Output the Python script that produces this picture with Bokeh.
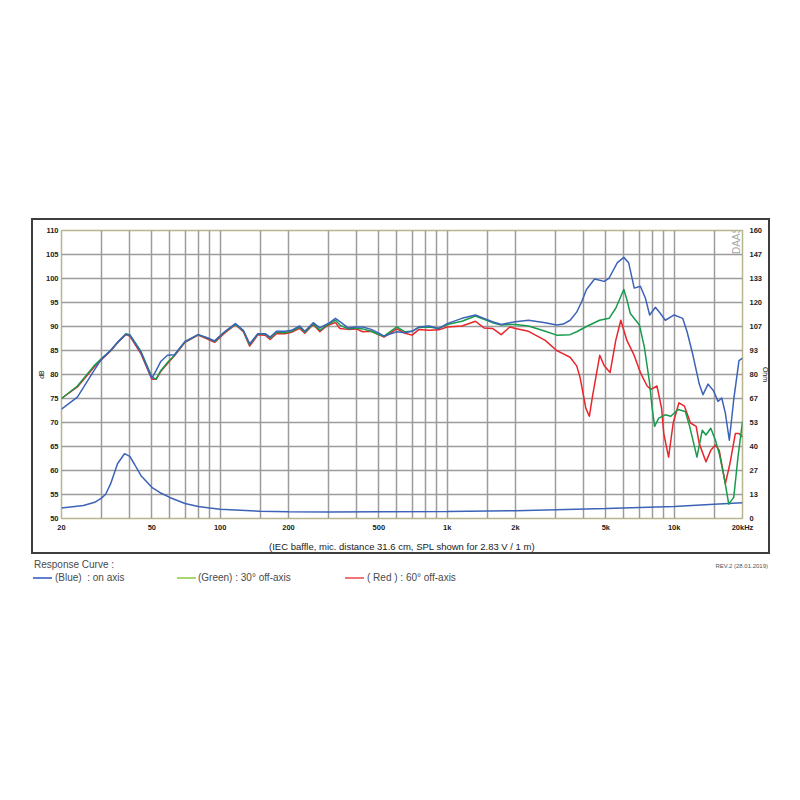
from math import pi
from bokeh.plotting import figure
from bokeh.models import Range1d, LinearAxis, FixedTicker, Div, Spacer
from bokeh.layouts import column, row
from bokeh.core.properties import value
from bokeh.embed import file_html
from bokeh.resources import INLINE

FONT = "Liberation Sans"

# ---------------- data ----------------
blue_f = [20, 23.5, 27.8, 30, 32.9, 35.5, 38.4, 40, 44.8, 50, 52.2, 54.7, 58.6, 62.9, 70, 80, 88, 94.5,
          104.5, 116.7, 126.5, 134.9, 146.7, 157.9, 166, 177, 193, 206, 224, 236, 257, 275, 289, 304, 322,
          337, 366, 397, 425, 463, 505, 527, 600, 652, 700, 752, 833, 920, 1000, 1162, 1332, 1452, 1584,
          1730, 1888, 2000, 2282, 2704, 3036, 3250, 3480, 3720, 3900, 4110, 4460, 4920, 5170, 5620, 6000,
          6300, 6670, 7100, 7470, 7800, 8270, 8700, 9140, 10000, 10900, 11400, 12100, 12900, 13400, 14100,
          14900, 15600, 16200, 16800, 17500, 18300, 19300, 20000]
blue_db = [72.8, 75.3, 80.8, 83.2, 85.0, 86.8, 88.4, 88.2, 84.6, 79.2, 80.8, 82.7, 84.0, 84.1, 86.9, 88.3,
           87.6, 87.0, 88.9, 90.6, 89.2, 86.4, 88.5, 88.5, 87.8, 89.0, 89.0, 89.2, 90.1, 89.0, 90.8, 89.7,
           90.3, 90.8, 91.7, 91.0, 89.7, 89.9, 89.9, 89.4, 88.5, 88.0, 88.9, 88.7, 89.0, 89.9, 90.1, 89.6,
           90.6, 91.7, 92.4, 91.7, 91.0, 90.4, 90.8, 91.0, 91.3, 90.8, 90.3, 90.5, 91.3, 93.0, 95.0, 97.7,
           99.9, 99.4, 100.1, 103.3, 104.4, 103.3, 98.0, 98.4, 95.9, 92.4, 94.0, 92.7, 91.3, 92.4, 91.7,
           88.9, 84.0, 78.0, 75.8, 78.0, 76.6, 74.4, 75.1, 72.0, 66.3, 74.8, 82.9, 83.4]

green_f = [20, 23.5, 27.8, 30, 32.9, 35.5, 38.4, 40, 44.8, 50, 52.2, 54.7, 58.6, 62.9, 70, 80, 88, 94.5,
           104.5, 116.7, 126.5, 134.9, 146.7, 157.9, 166, 177, 193, 206, 224, 236, 257, 275, 289, 304, 322,
           337, 366, 397, 425, 463, 505, 527, 600, 652, 700, 752, 833, 920, 1000, 1162, 1332, 1452, 1584,
           1730, 1888, 2000, 2282, 2704, 3036, 3480, 3720, 4110, 4690, 5170, 5530, 6000, 6190, 6410, 7030,
           7390, 7770, 8000, 8200, 8550, 9140, 9660, 10400, 11200, 11700, 12200, 12600, 13300, 13800, 14500,
           15200, 15800, 16600, 17400, 18300, 19100, 20000]
green_db = [75.0, 77.6, 81.8, 83.3, 85.0, 86.8, 88.5, 88.3, 84.8, 79.5, 79.0, 80.8, 82.5, 84.0, 86.8, 88.3,
            87.6, 86.9, 88.8, 90.5, 89.1, 86.2, 88.5, 88.4, 87.6, 88.8, 88.7, 89.0, 89.9, 88.8, 90.6, 89.2,
            90.0, 90.6, 91.3, 90.3, 89.5, 89.7, 89.5, 89.0, 88.2, 88.0, 89.9, 88.9, 89.0, 89.8, 89.9, 89.6,
            90.4, 91.1, 92.2, 91.5, 90.8, 90.3, 90.4, 90.4, 90.1, 89.0, 88.2, 88.3, 88.9, 90.0, 91.3, 91.7,
            93.8, 97.7, 95.6, 92.7, 90.3, 85.7, 78.7, 73.0, 69.2, 70.9, 71.6, 71.3, 72.7, 72.3, 69.2, 65.6,
            62.8, 68.4, 67.4, 68.8, 66.3, 63.5, 58.6, 53.0, 54.4, 62.8, 70.2]

red_f = [20, 23.5, 27.8, 30, 32.9, 35.5, 38.4, 40, 44.8, 50, 52.2, 54.7, 58.6, 62.9, 70, 80, 88, 94.5,
         104.5, 116.7, 126.5, 134.9, 146.7, 157.9, 166, 177, 193, 206, 224, 236, 257, 275, 289, 304, 322,
         337, 366, 397, 425, 463, 505, 527, 600, 652, 700, 752, 833, 920, 1000, 1162, 1332, 1452, 1584,
         1730, 1888, 2000, 2282, 2704, 3036, 3250, 3480, 3720, 3850, 4080, 4230, 4380, 4700, 4920, 5220,
         5530, 5820, 6190, 6620, 7100, 7600, 7900, 8400, 8800, 9000, 9450, 9900, 10500, 11100, 11800,
         12500, 12900, 13800, 14500, 15200, 15800, 16800, 17600, 18600, 19300, 20000]
red_db = [75.0, 77.4, 81.5, 83.1, 84.9, 86.7, 88.3, 88.0, 84.3, 79.0, 79.0, 80.6, 82.3, 83.9, 86.7, 88.2,
          87.4, 86.7, 88.6, 90.4, 88.9, 85.9, 88.3, 88.2, 87.3, 88.5, 88.5, 88.8, 89.6, 88.6, 90.4, 88.9,
          89.8, 90.4, 90.8, 89.6, 89.4, 89.5, 88.9, 89.0, 88.2, 87.8, 89.5, 88.6, 88.2, 89.4, 89.2, 89.3,
          89.9, 90.1, 91.1, 89.7, 89.6, 88.3, 89.9, 89.6, 89.0, 87.1, 85.0, 84.3, 83.6, 81.8, 79.4, 73.0,
          71.3, 75.8, 84.0, 81.8, 80.4, 87.1, 91.3, 87.1, 84.3, 80.4, 77.6, 76.9, 77.6, 73.0, 67.7, 62.8,
          69.9, 74.1, 73.4, 69.9, 69.2, 65.6, 61.8, 64.2, 65.3, 64.2, 57.2, 61.4, 67.7, 67.7, 67.0]

imp_f = [20, 25, 28, 30, 31.3, 32.9, 35.3, 37.9, 40, 42, 44.8, 50, 55, 60, 70, 80, 90, 100, 150, 200,
         300, 500, 1000, 2000, 5000, 10000, 15000, 20000]
imp_ohm = [5.8, 7.2, 9.0, 11.3, 13.5, 19.2, 30.4, 36.0, 34.5, 30.0, 23.8, 17.3, 14.0, 11.7, 8.3, 6.7, 5.8,
           5.1, 4.0, 3.7, 3.6, 3.7, 3.9, 4.3, 5.5, 6.6, 7.9, 8.8]

x_tick_vals = [20, 50, 100, 200, 500, 1000, 2000, 5000, 10000, 20000]
x_tick_labels = ["20", "50", "100", "200", "500", "1k", "2k", "5k", "10k", "20kHz"]
x_grid_vals = [20, 30, 40, 50, 60, 70, 80, 90, 100, 150, 200, 300, 400, 500, 600, 700, 800, 900, 1000,
               1500, 2000, 3000, 4000, 5000, 6000, 7000, 8000, 9000, 10000, 15000, 20000]
db_ticks = [50, 55, 60, 65, 70, 75, 80, 85, 90, 95, 100, 105, 110]
ohm_labels = ["0", "13", "27", "40", "53", "67", "80", "93", "107", "120", "133", "147", "160"]

# ---------------- figure ----------------
p = figure(frame_width=677, frame_height=284, x_axis_type="log",
           x_range=Range1d(20, 20000), y_range=Range1d(50, 110),
           output_backend="svg", toolbar_location=None, title=None,
           min_border_left=28, min_border_right=30, min_border_top=10, min_border_bottom=38,
           background_fill_color="white", border_fill_color="white",
           outline_line_color="#b9b58f", outline_line_width=1.5,
           styles={"border": "2px solid #3d3d3d"})

p.extra_y_ranges = {"ohm": Range1d(0, 160)}

p.xgrid.ticker = FixedTicker(ticks=x_grid_vals)
p.ygrid.ticker = FixedTicker(ticks=db_ticks)
for g in (p.xgrid, p.ygrid):
    g.grid_line_color = "#9c9c9c"
    g.grid_line_width = 1.5

xa = p.xaxis[0]
xa.ticker = FixedTicker(ticks=x_tick_vals)
xa.major_label_overrides = {v: l for v, l in zip(x_tick_vals, x_tick_labels)}
xa.axis_label = "(IEC baffle, mic. distance 31.6 cm, SPL shown for 2.83 V / 1 m)"
xa.axis_label_text_font_size = "9.5px"
xa.axis_label_standoff = 6

ya = p.yaxis[0]
ya.ticker = FixedTicker(ticks=db_ticks)
ya.axis_label = "dB"
ya.axis_label_text_font_size = "7px"
ya.axis_label_standoff = -2

ohm_ticks = [i * 160 / 12 for i in range(13)]
ra = LinearAxis(y_range_name="ohm", ticker=FixedTicker(ticks=ohm_ticks),
                major_label_overrides={t: l for t, l in zip(ohm_ticks, ohm_labels)},
                axis_label="Ohm")
ra.axis_label_text_font_size = "7px"
ra.axis_label_standoff = -3
p.add_layout(ra, "right")

for ax in (xa, ya, ra):
    ax.axis_line_color = None
    ax.major_tick_line_color = None
    ax.minor_tick_line_color = None
    ax.major_tick_out = 0
    ax.major_tick_in = 0
    ax.minor_tick_out = 0
    ax.minor_tick_in = 0
    ax.major_label_text_font = FONT
    ax.axis_label_text_font = FONT
    ax.axis_label_text_font_style = "normal"
    ax.axis_label_text_color = "#222222"
    ax.major_label_text_font_size = "7.5px"
    ax.major_label_text_font_style = "bold"
    ax.major_label_text_color = "#222222"
xa.major_label_standoff = 4
ya.major_label_standoff = 3
ra.major_label_standoff = 7

p.line(imp_f, imp_ohm, y_range_name="ohm", line_color="#3d63b8", line_width=1.5)
p.line(red_f, red_db, line_color="#e8262b", line_width=1.5, line_join="round")
p.line(green_f, green_db, line_color="#179b4c", line_width=1.5, line_join="round")
p.line(blue_f, blue_db, line_color="#3d63b8", line_width=1.5, line_join="round")

p.text(x=[18800], y=[105.1], text=["DAAS"], angle=pi / 2, text_align="left", text_baseline="middle",
       text_font=value(FONT), text_font_size="10px", text_color="#a8a8a8")

legend_html = f"""
<div style="position:relative;width:784px;height:40px;font-family:'{FONT}',Arial,sans-serif;color:#4a4a4a;">
  <span style="position:absolute;left:34px;top:4px;font-size:10px;white-space:nowrap;">Response Curve :</span>
  <span style="position:absolute;left:33px;top:23px;width:19px;height:1.5px;background:#5f7fcf;"></span>
  <span style="position:absolute;left:55px;top:17px;font-size:10px;white-space:nowrap;">(Blue)&nbsp; : on axis</span>
  <span style="position:absolute;left:177px;top:23px;width:19px;height:1.5px;background:#a9d66f;"></span>
  <span style="position:absolute;left:198px;top:17px;font-size:10px;white-space:nowrap;">(Green) : 30° off-axis</span>
  <span style="position:absolute;left:345px;top:23px;width:19px;height:1.5px;background:#f07474;"></span>
  <span style="position:absolute;left:367px;top:17px;font-size:10px;white-space:nowrap;">( Red ) : 60° off-axis</span>
  <span style="position:absolute;right:16px;top:8px;font-size:6px;white-space:nowrap;color:#555;">REV.2 (28.01.2019)</span>
</div>
"""
legend = Div(text=legend_html, width=784, height=40, margin=0)

layout = column(Spacer(width=10, height=218),
                row(Spacer(width=31, height=10), p),
                legend)

open("out.html", "w").write(file_html(layout, INLINE))
